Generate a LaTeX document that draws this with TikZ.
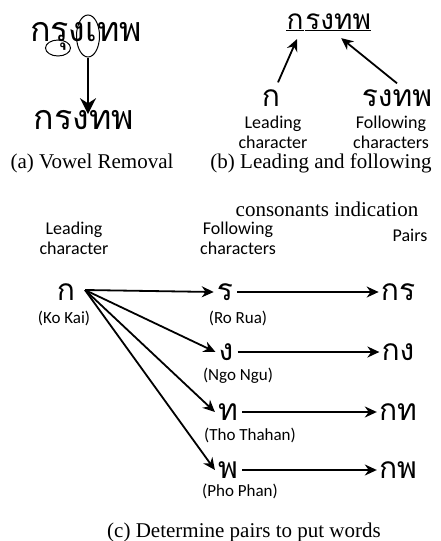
\documentclass[tikz,border=0pt]{standalone}
\usepackage{fontspec}
\setmainfont{Liberation Serif}
\newfontfamily\thaifont[Script=Thai]{Loma}
\newfontfamily\labfont{Carlito}
\usetikzlibrary{arrows.meta,shapes.geometric,positioning}
\begin{document}
\begin{tikzpicture}[x=1pt,y=-1pt,
  thai/.style={font=\thaifont\fontsize{30}{30}\selectfont, inner sep=0pt},
  big/.style={font=\thaifont\fontsize{34}{34}\selectfont, inner sep=0pt},
  lab/.style={font=\labfont\fontsize{18}{20}\selectfont, align=center, inner sep=0pt},
  small/.style={font=\labfont\fontsize{17}{18}\selectfont, inner sep=0pt},
  capt/.style={font=\fontsize{21}{24}\selectfont, inner sep=0pt},
  ring/.style={draw, ellipse, line width=1pt, inner sep=0pt},
  arr/.style={-{Stealth[length=12pt,width=11pt]}, line width=1.8pt}]
\useasboundingbox (0,0) rectangle (440,541);
% (a) vowel removal
\node[big] (full) at (86,36) {กรุงเทพ};
\node[ring, minimum width=25pt, minimum height=16pt] (cu) at (58,48) {};
\node[ring, minimum width=23pt, minimum height=42pt] (ce) at (88,36) {};
\node[big] (short) at (84,120) {กรงทพ};
\draw[arr, -{Stealth[length=16pt,width=16pt]}] (ce.south) -- ([yshift=-4pt]short.north -| ce.south);
\node[capt] (capa) at (92,163) {(a) Vowel Removal};
% (b) leading and following
\node[font=\thaifont\fontsize{28}{28}\selectfont, inner sep=0pt] (wk) at (295,22) {ก};
\node[font=\thaifont\fontsize{28}{28}\selectfont, inner sep=0pt, right=1.5pt of wk] (wr) {รงทพ};
\draw[line width=1pt] (wk.south west) -- (wk.south east);
\draw[line width=1pt] (wr.south west) -- (wr.south east);
\node[thai] (lk) at (271,98) {ก};
\node[thai] (lr) at (397,98) {รงทพ};
\node[lab] (llab) at (273,132) {Leading\\character};
\node[lab] (flab) at (391,132) {Following\\characters};
\draw[arr] ([xshift=7pt,yshift=7pt]lk.north) -- ([xshift=2pt,yshift=-9pt]wk.south);
\draw[arr] ([xshift=0pt,yshift=6pt]lr.north) -- ([xshift=3pt,yshift=-8pt]wr.south);
\node[capt] (capb) at (321,163) {(b) Leading and following};
\node[capt] (capb2) at (327,209) {consonants indication};
% (c) pairs
\node[lab] (hlead) at (74,238) {Leading\\character};
\node[lab] (hfol) at (238,238) {Following\\characters};
\node[lab] (hpair) at (410,235) {Pairs};
\node[thai] (kk) at (66,292) {ก};
\node[small] at (64,318) {(Ko Kai)};
\node[thai] (ro) at (225,292) {ร};
\node[small] at (238,318) {(Ro Rua)};
\node[thai] (ngo) at (226,352) {ง};
\node[small] at (238,376) {(Ngo Ngu)};
\node[thai] (tho) at (228,412) {ท};
\node[small] at (250,435) {(Tho Thahan)};
\node[thai] (pho) at (228,470) {พ};
\node[small] at (240,491) {(Pho Phan)};
\node[thai] (pro) at (398,292) {กร};
\node[thai] (pngo) at (398,352) {กง};
\node[thai] (ptho) at (398,412) {กท};
\node[thai] (ppho) at (398,470) {กพ};
\coordinate (src) at (85,290);
\foreach \c in {ro,ngo,tho,pho}
  \draw[arr] (src) -- ([xshift=-3pt]\c.west);
\draw[arr] ([xshift=4pt]ro.east) -- ([xshift=-2pt]pro.west);
\draw[arr] ([xshift=4pt]ngo.east) -- ([xshift=-2pt]pngo.west);
\draw[arr] ([xshift=4pt]tho.east) -- ([xshift=-2pt]ptho.west);
\draw[arr] ([xshift=4pt]pho.east) -- ([xshift=-2pt]ppho.west);
\node[capt] (capc) at (244,532) {(c) Determine pairs to put words};
\end{tikzpicture}
\end{document}
